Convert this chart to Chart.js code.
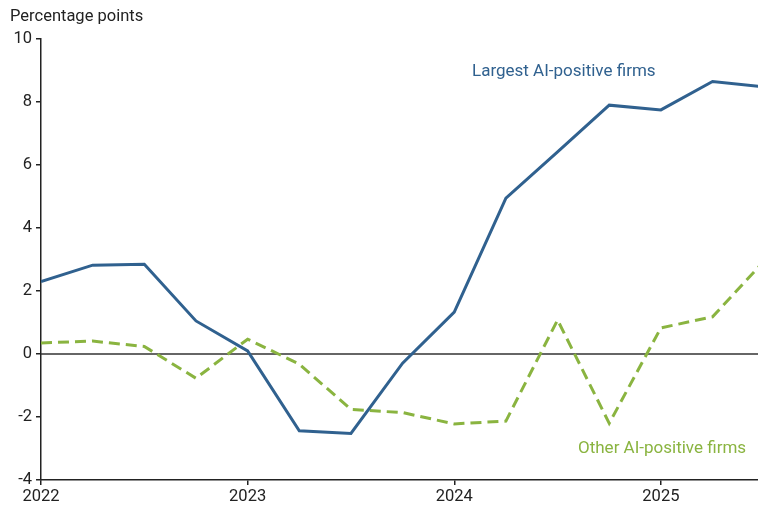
<!DOCTYPE html>
<html>
<head>
<meta charset="utf-8">
<script src="https://cdn.jsdelivr.net/npm/chart.js@4/dist/chart.umd.min.js"></script>
<style>
  html, body { margin: 0; padding: 0; background: #fff; }
  #wrap { width: 758px; height: 506px; position: relative; }
</style>
</head>
<body>
<div id="wrap"><canvas id="aiChart"></canvas></div>
<script>
// quarterly observations, index 0 = 2022 Q1
const quarters = [0, 1, 2, 3, 4, 5, 6, 7, 8, 9, 10, 11, 12, 13, 14];
const largestFirms = [2.3, 2.82, 2.85, 1.05, 0.1, -2.44, -2.52, -0.29, 1.33, 4.95, 6.42, 7.9, 7.75, 8.65, 8.48];
const otherFirms = [0.35, 0.41, 0.24, -0.77, 0.47, -0.32, -1.76, -1.86, -2.22, -2.13, 1.08, -2.2, 0.83, 1.18, 2.95];
const yearTicks = [0, 4, 8, 12];
const yearLabels = ['2022', '2023', '2024', '2025'];

const blue = '#30618f';
const green = '#8ab440';
const font = 'Roboto, "Noto Sans", sans-serif';

// draws the zero line, axis title and series labels
const annotations = {
    id: 'annotations',
    beforeDatasetsDraw(chart) {
        const { ctx, chartArea, scales } = chart;
        const y0 = scales.y.getPixelForValue(0);
        ctx.save();
        ctx.strokeStyle = '#333';
        ctx.lineWidth = 1.5;
        ctx.beginPath();
        ctx.moveTo(chartArea.left, y0);
        ctx.lineTo(chartArea.right, y0);
        ctx.stroke();
        ctx.restore();
    },
    afterDraw(chart) {
        const { ctx } = chart;
        ctx.save();
        ctx.textBaseline = 'middle';
        ctx.textAlign = 'left';
        ctx.font = '16.5px ' + font;
        ctx.fillStyle = '#222';
        ctx.fillText('Percentage points', 10, 17);
        ctx.font = '17px ' + font;
        ctx.fillStyle = blue;
        ctx.fillText('Largest AI-positive firms', 472, 72);
        ctx.fillStyle = green;
        ctx.fillText('Other AI-positive firms', 578, 449);
        ctx.restore();
    }
};

const ctx = document.getElementById('aiChart').getContext('2d');
new Chart(ctx, {
    type: 'line',
    data: {
        datasets: [{
            label: 'Largest AI-positive firms',
            data: quarters.map((q, i) => ({ x: q, y: largestFirms[i] })),
            borderColor: blue,
            borderWidth: 3,
            pointRadius: 0,
            tension: 0
        }, {
            label: 'Other AI-positive firms',
            data: quarters.map((q, i) => ({ x: q, y: otherFirms[i] })),
            borderColor: green,
            borderWidth: 3,
            borderDash: [11, 6],
            pointRadius: 0,
            tension: 0
        }]
    },
    options: {
        responsive: true,
        maintainAspectRatio: false,
        animation: false,
        layout: { padding: { top: 39, right: 0, left: 0, bottom: 0 } },
        plugins: {
            legend: { display: false },
            tooltip: { enabled: false }
        },
        scales: {
            x: {
                type: 'linear',
                min: 0,
                max: 13.88,
                afterBuildTicks: scale => { scale.ticks = yearTicks.map(v => ({ value: v })); },
                afterFit: scale => { scale.height = 26; },
                border: { display: true, color: '#222', width: 1.5 },
                grid: { display: true, drawOnChartArea: false, tickLength: 5, color: '#222', lineWidth: 1.5 },
                ticks: {
                    padding: 2,
                    maxRotation: 0,
                    color: '#222',
                    font: { family: font, size: 16.5 },
                    callback: v => yearLabels[yearTicks.indexOf(v)]
                }
            },
            y: {
                min: -4,
                max: 10,
                afterFit: scale => { scale.width = 41; },
                border: { display: true, color: '#222', width: 1.5 },
                grid: { display: true, drawOnChartArea: false, tickLength: 5, color: '#222', lineWidth: 1.5 },
                ticks: {
                    stepSize: 2,
                    padding: 4,
                    color: '#222',
                    font: { family: font, size: 16.5 }
                }
            }
        }
    },
    plugins: [annotations]
});
</script>
</body>
</html>
